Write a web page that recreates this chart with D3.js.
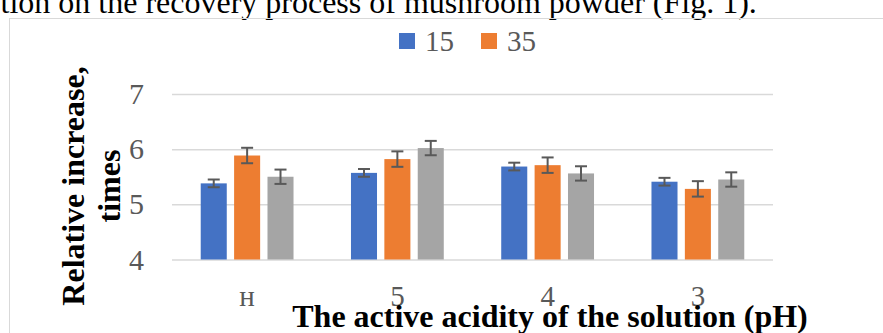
<!DOCTYPE html>
<html>
<head>
<meta charset="utf-8">
<script src="https://cdn.jsdelivr.net/npm/d3@7"></script>
<style>
  html, body { margin: 0; padding: 0; background: #fff; overflow: hidden; }
  svg { display: block; }
</style>
</head>
<body>
<svg id="chart" width="883" height="333"></svg>
<script>
// ---- data ----
const categories = ["н", "5", "4", "3"];
const seriesKeys = ["15", "35", "s3"];
const legendLabels = ["15", "35"];
const values15 = [5.38, 5.57, 5.685, 5.41];
const values35 = [5.885, 5.82, 5.71, 5.28];
const values3 = [5.50, 6.02, 5.56, 5.45];
const err15 = [0.07, 0.07, 0.07, 0.07];
const err35 = [0.14, 0.14, 0.14, 0.14];
const err3 = [0.13, 0.13, 0.13, 0.13];
const yTicks = [4, 5, 6, 7];
const colors = ["#4472C4", "#ED7D31", "#A5A5A5"];
const topText = "tion on the recovery process of mushroom powder (Fig. 1).";
const xTitle = "The active acidity of the solution (pH)";
const yTitleLines = ["Relative increase,", "times"];

const valuesBySeries = [values15, values35, values3];
const errBySeries = [err15, err35, err3];

const svg = d3.select("#chart");
const serif = "'Liberation Serif', 'Times New Roman', serif";

// top cut-off paragraph text
svg.append("text")
  .attr("x", 0.5).attr("y", 12.5)
  .attr("font-family", serif).attr("font-size", 32).attr("fill", "#000")
  .text(topText);

// chart frame
svg.append("rect")
  .attr("x", 9.5).attr("y", 18.5).attr("width", 900).attr("height", 400)
  .attr("fill", "none").attr("stroke", "#d9d9d9").attr("stroke-width", 1);

const plot = { left: 172, right: 773, top: 94, bottom: 259.5 };

const x0 = d3.scaleBand().domain(categories).range([plot.left, plot.right]).padding(0);
const groupW = 92.8;
const x1 = d3.scaleBand().domain(seriesKeys)
  .range([(x0.bandwidth() - groupW) / 2, (x0.bandwidth() + groupW) / 2])
  .paddingInner(0.22).paddingOuter(0);
const y = d3.scaleLinear().domain([4, 7]).range([plot.bottom, plot.top]);

// gridlines
const grid = svg.append("g").attr("transform", `translate(${plot.left},0)`)
  .call(d3.axisLeft(y).tickValues(yTicks).tickSize(-(plot.right - plot.left)).tickFormat(""));
grid.select(".domain").remove();
grid.selectAll(".tick line").attr("stroke", "#d9d9d9").attr("stroke-width", 1.5);

// y axis labels
const yAx = svg.append("g").attr("transform", `translate(${plot.left},0)`)
  .call(d3.axisLeft(y).tickValues(yTicks).tickSize(0).tickPadding(28).tickFormat(d3.format("d")));
yAx.select(".domain").remove();
yAx.selectAll("text").attr("font-family", serif).attr("font-size", 30).attr("fill", "#595959");

// bars
const flat = [];
categories.forEach((c, i) => {
  seriesKeys.forEach((k, j) => {
    flat.push({ cat: c, key: k, j, v: valuesBySeries[j][i], e: errBySeries[j][i] });
  });
});

svg.append("g").selectAll("rect").data(flat).join("rect")
  .attr("x", d => x0(d.cat) + x1(d.key))
  .attr("y", d => y(d.v))
  .attr("width", x1.bandwidth())
  .attr("height", d => y(4) - y(d.v))
  .attr("fill", d => colors[d.j]);

// error bars
const capW = 12;
const eb = svg.append("g").attr("stroke", "#595959").attr("stroke-width", 2).attr("fill", "none");
flat.forEach(d => {
  const cx = x0(d.cat) + x1(d.key) + x1.bandwidth() / 2;
  eb.append("line").attr("x1", cx).attr("x2", cx).attr("y1", y(d.v + d.e)).attr("y2", y(d.v - d.e));
  eb.append("line").attr("x1", cx - capW / 2).attr("x2", cx + capW / 2).attr("y1", y(d.v + d.e)).attr("y2", y(d.v + d.e));
  eb.append("line").attr("x1", cx - capW / 2).attr("x2", cx + capW / 2).attr("y1", y(d.v - d.e)).attr("y2", y(d.v - d.e));
});

// category axis
const xAx = svg.append("g").attr("transform", `translate(0,${plot.bottom})`)
  .call(d3.axisBottom(x0).tickSize(0).tickPadding(26));
xAx.select(".domain").remove();
xAx.selectAll("text").attr("font-family", serif).attr("font-size", 29).attr("fill", "#595959");

// x title
svg.append("text")
  .attr("x", 550).attr("y", 327)
  .attr("text-anchor", "middle")
  .attr("font-family", serif).attr("font-weight", "bold").attr("font-size", 32).attr("fill", "#000")
  .text(xTitle);

// y title
const yt = svg.append("text")
  .attr("transform", "translate(84,186) rotate(-90)")
  .attr("text-anchor", "middle")
  .attr("font-family", serif).attr("font-weight", "bold").attr("font-size", 32).attr("fill", "#000");
yt.append("tspan").attr("x", 0).attr("y", 0).text(yTitleLines[0]);
yt.append("tspan").attr("x", 0).attr("y", 36).text(yTitleLines[1]);

// legend
const legX = [399, 481];
const lg = svg.append("g");
legendLabels.forEach((lab, i) => {
  lg.append("rect").attr("x", legX[i]).attr("y", 33).attr("width", 16).attr("height", 16).attr("fill", colors[i]);
  lg.append("text").attr("x", legX[i] + 26).attr("y", 51)
    .attr("font-family", serif).attr("font-size", 29).attr("fill", "#595959").text(lab);
});
</script>
</body>
</html>
